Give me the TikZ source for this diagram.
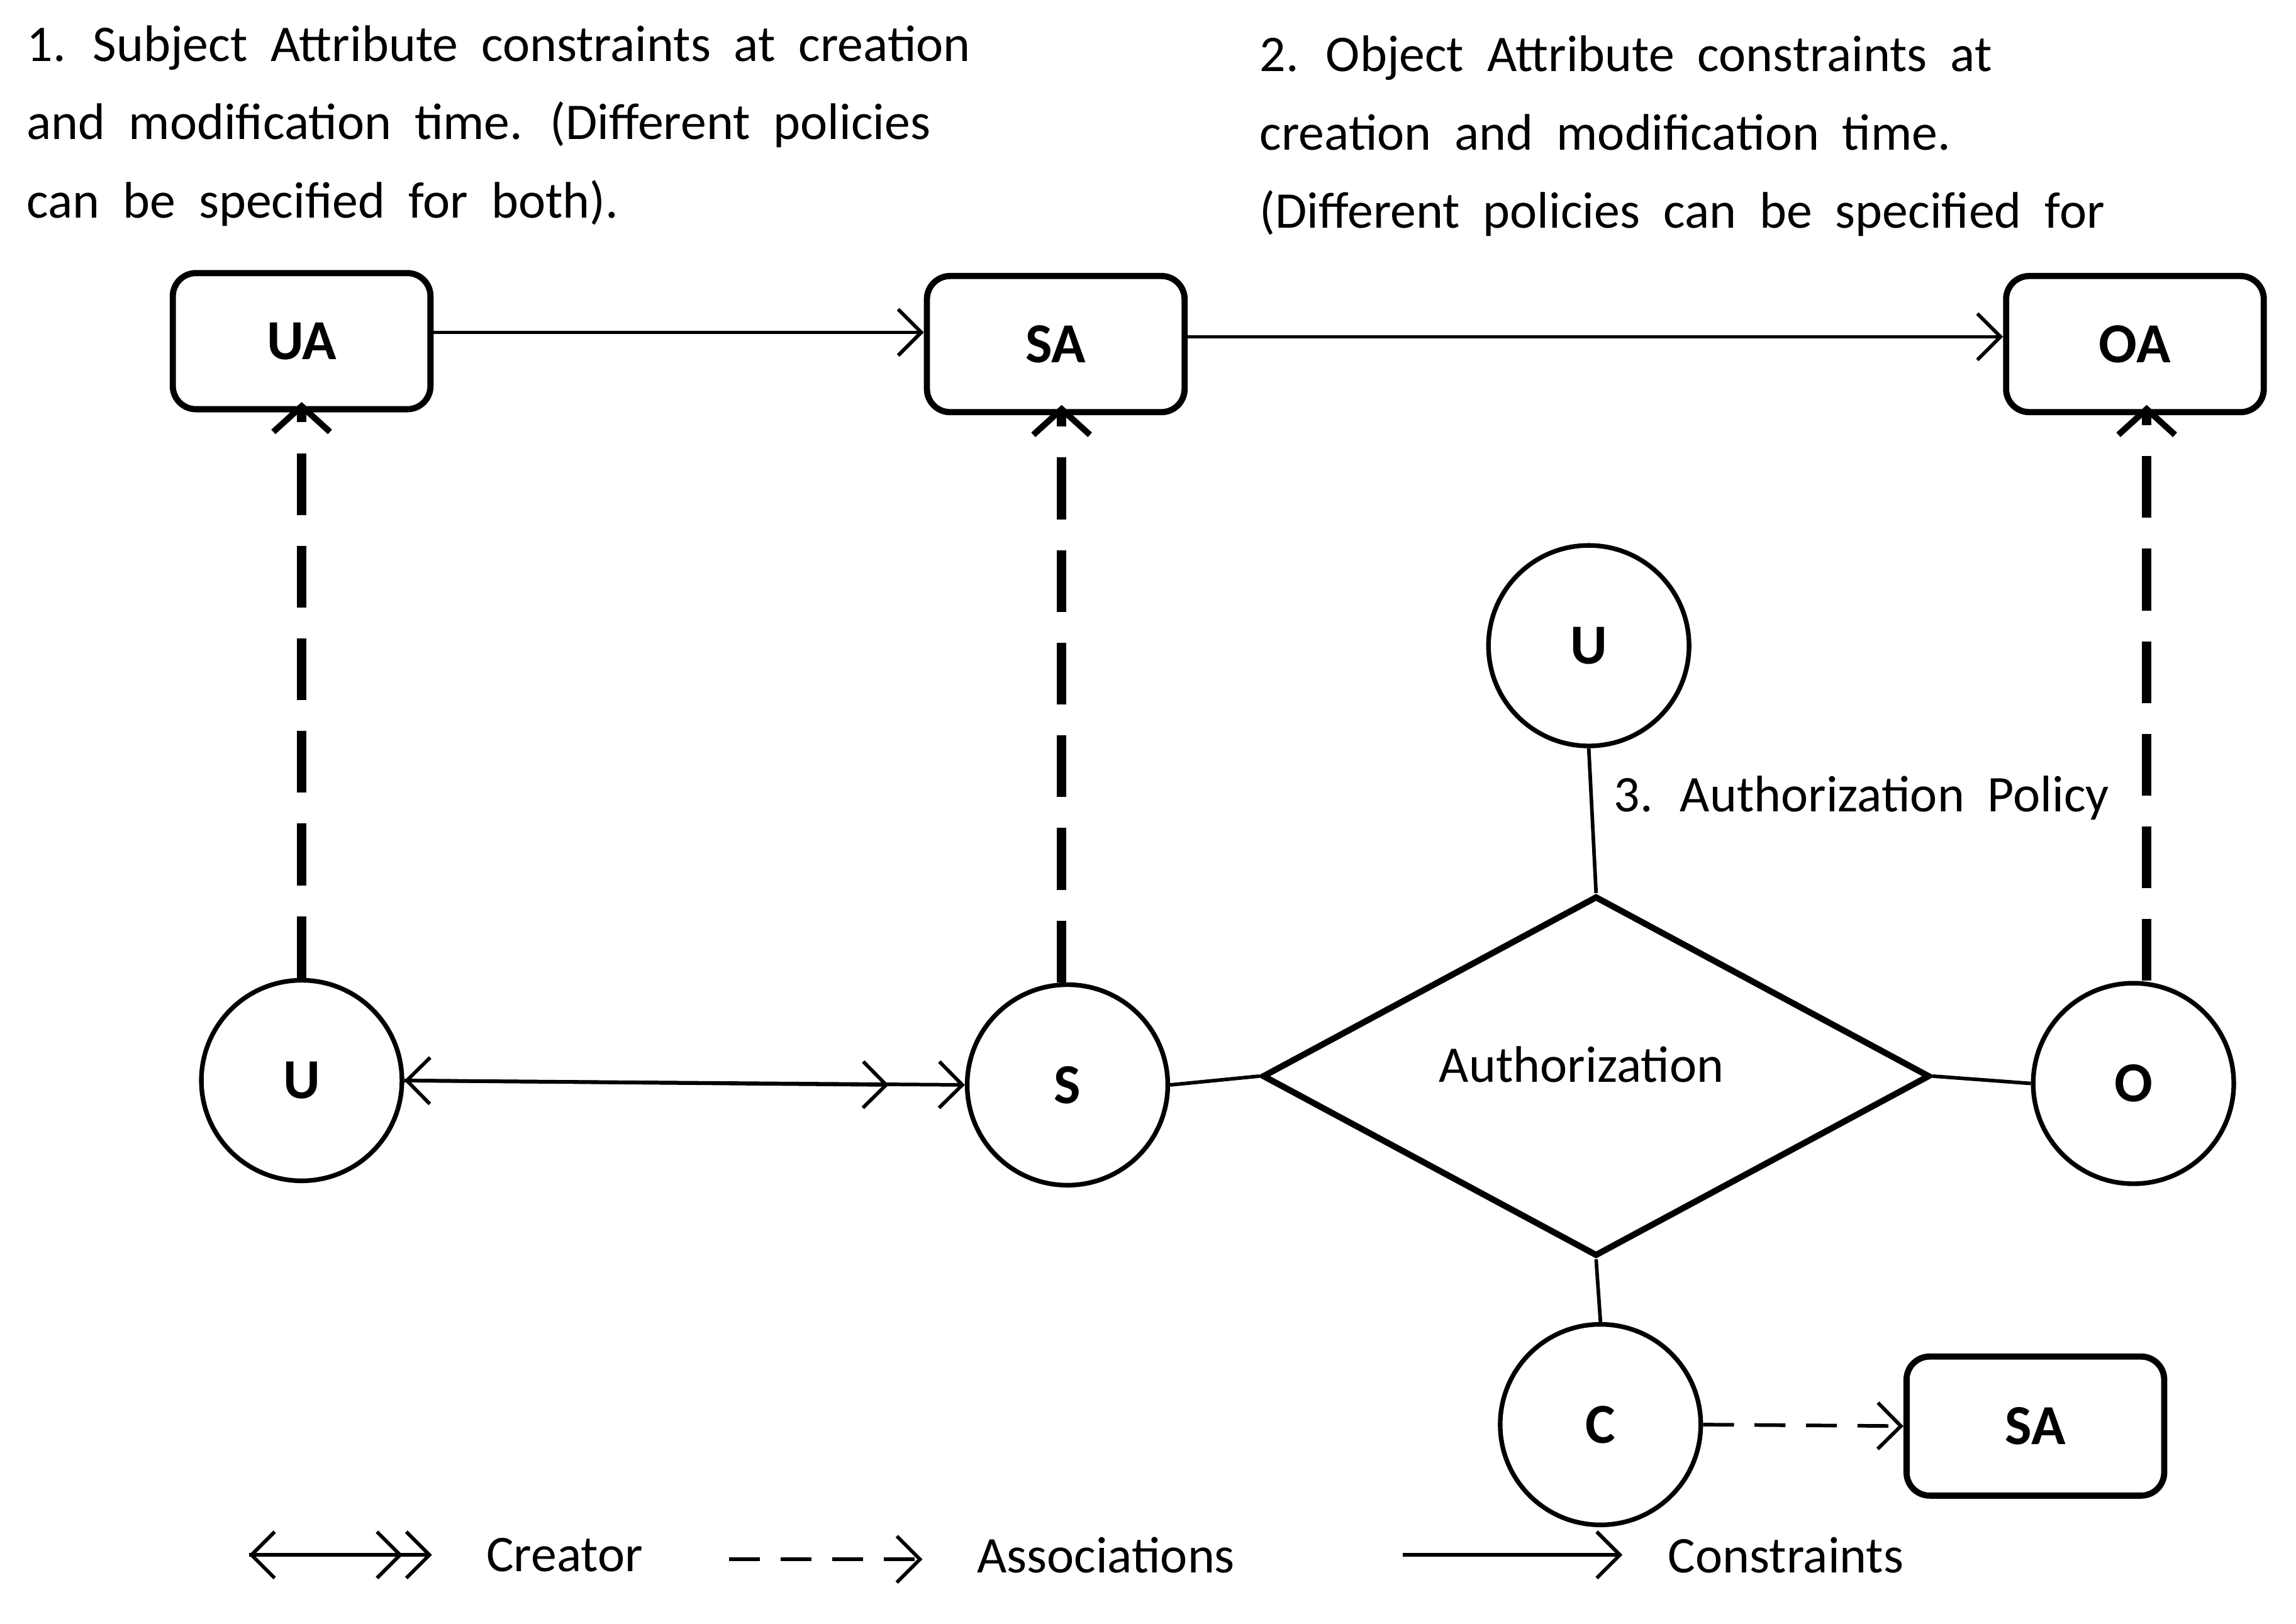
\documentclass[tikz,border=0pt]{standalone}
\usepackage{fontspec}
\setmainfont[WordSpace=2.0]{Carlito}
\usetikzlibrary{arrows.meta,shapes.geometric,calc}
\tikzset{hd/.tip={Straight Barb[length=9pt,width=18pt,line width=1.4pt]}}
\begin{document}
\begin{tikzpicture}[x=0.02cm,y=-0.02cm,
  box/.style={draw,line width=2.4pt,rounded corners=9pt,minimum width=3.52cm,minimum height=1.86cm,font=\fontsize{22}{24}\selectfont\bfseries},
  circ/.style={draw,line width=1.8pt,circle,minimum size=2.74cm,inner sep=0pt,font=\fontsize{22}{24}\selectfont\bfseries},
  con/.style={line width=1.4pt},
  cons/.style={con,-{hd}},
  assoc/.style={line width=3.6pt,dash pattern=on 24pt off 12pt,-{Straight Barb[length=10pt,width=22pt,line width=2.4pt]},shorten >=-4pt},
  lbl/.style={font=\fontsize{20}{24}\selectfont},
  txt/.style={font=\fontsize{20}{30.5}\selectfont,align=left,anchor=north west,inner sep=0pt}]
\useasboundingbox (0,0) rectangle (1568,1109);
\node[txt] (t1) at (18,17) {1. Subject Attribute constraints at creation\\and modification time. (Different policies\\can be specified for both).};
\node[txt] (t2) at (860,24) {2. Object Attribute constraints at\\creation and modification time.\\(Different policies can be specified for};
\node[box] (UA) at (206,233) {UA};
\node[box] (SA) at (721,235) {SA};
\node[box] (OA) at (1458,235) {OA};
\node[circ] (U) at (206,738) {U};
\node[circ] (S) at (729,741) {S};
\node[circ] (O) at (1457,740) {O};
\node[circ] (U2) at (1085,441) {U};
\node[circ] (C) at (1093,973) {C};
\node[box,minimum height=1.9cm] (SA2) at (1390,974) {SA};
\node[draw,line width=2.4pt,diamond,minimum width=9.12cm,minimum height=4.92cm,aspect=1.85,inner sep=0pt] (D) at (1090,735) {};
\node[lbl] (Dl) at (1080,727) {Authorization};
\node[lbl,anchor=west] (pol) at (1096,545) {3. Authorization Policy};
\draw[cons] (UA.east |- 0,227) -- (SA.west |- 0,227);
\draw[cons] (SA.east |- 0,230) -- (OA.west |- 0,230);
\draw[assoc] (U.north) -- (UA.south);
\draw[assoc] (S.north -| 725,0) -- (SA.south -| 725,0);
\draw[assoc] (O.north -| 1466,0) -- (OA.south -| 1466,0);
\coordinate (cr) at ($(S.west)+(-52,0)$);
\draw[con,{hd}-{hd}] (U.east) -- (S.west);
\draw[con,-{hd}] (U.east) -- (cr);
\draw[con] (S.east) -- (D.west);
\draw[con] (D.east) -- (O.west);
\draw[con] (U2.south) -- (D.north);
\draw[con] (D.south) -- (C.north);
\draw[con,dash pattern=on 12pt off 8pt,-{hd}] (C.east) -- (SA2.west);
% legend
\coordinate (l1a) at (170,1062); \coordinate (l1b) at (295,1062); \coordinate (l1c) at (275,1062);
\coordinate (l2a) at (498,1065); \coordinate (l2b) at (630,1065);
\coordinate (l3a) at (958,1062); \coordinate (l3b) at (1108,1062);
\draw[con,{hd}-{hd}] (l1a) -- (l1b);
\draw[con,-{hd}] (l1a) -- (l1c);
\draw[con,dash pattern=on 12pt off 8pt,-{hd}] (l2a) -- (l2b);
\draw[cons] (l3a) -- (l3b);
\node[lbl,anchor=west] (lg1) at (326,1062) {Creator};
\node[lbl,anchor=west] (lg2) at (661,1062) {Associations};
\node[lbl,anchor=west] (lg3) at (1133,1062) {Constraints};
\end{tikzpicture}
\end{document}
